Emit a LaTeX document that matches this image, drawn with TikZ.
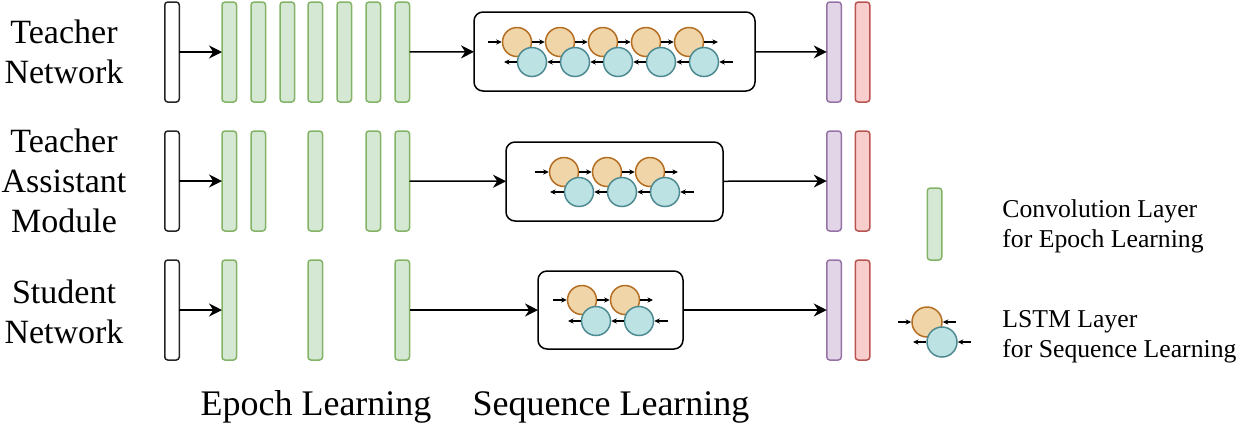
\documentclass[tikz,border=0pt]{standalone}
\usepackage{fontspec}
\setmainfont{Liberation Serif}
\usetikzlibrary{arrows.meta}
\definecolor{gfill}{HTML}{D5E8D4}\definecolor{gdraw}{HTML}{82B366}
\definecolor{pfill}{HTML}{E1D5E7}\definecolor{pdraw}{HTML}{9673A6}
\definecolor{rfill}{HTML}{F8CECC}\definecolor{rdraw}{HTML}{B85450}
\definecolor{ofill}{HTML}{F0D5A8}\definecolor{odraw}{HTML}{B46E22}
\definecolor{tfill}{HTML}{BCE2E4}\definecolor{tdraw}{HTML}{4E8A92}
\begin{document}
\begin{tikzpicture}[x=0.5pt,y=-0.5pt,
  bar/.style={draw, rounded corners=1.5pt, line width=0.75pt, minimum width=7.25pt, minimum height=50pt, inner sep=0pt, outer sep=0pt},
  conv/.style={bar, draw=gdraw, fill=gfill},
  inbox/.style={bar, draw=black!85, fill=white},
  fcp/.style={bar, draw=pdraw, fill=pfill},
  fcr/.style={bar, draw=rdraw, fill=rfill},
  fwd/.style={circle, draw=odraw, fill=ofill, line width=0.75pt, minimum size=14.5pt, inner sep=0pt},
  bwd/.style={circle, draw=tdraw, fill=tfill, line width=0.75pt, minimum size=14.5pt, inner sep=0pt},
  lstmbox/.style={draw, rounded corners=4.5pt, line width=0.75pt, inner sep=0pt, outer sep=0pt},
  arr/.style={-{Stealth[length=6.5pt,width=6.5pt]}, line width=0.75pt},
  sarr/.style={-{Stealth[length=2.8pt,width=2.6pt]}, line width=0.55pt},
  lab/.style={font=\fontsize{17}{20}\selectfont, align=center},
  blab/.style={font=\fontsize{18}{21}\selectfont},
  leg/.style={font=\fontsize{12.85}{15}\selectfont, align=left, anchor=west, inner sep=0pt},
]
\useasboundingbox (0,0) rectangle (1246,435);

% ---------- Row 1: Teacher Network ----------
\node[lab] (l1) at (64,52) {Teacher\\Network};
\node[inbox] (in1) at (172,52) {};
\foreach \i/\x in {1/229.25,2/258.25,3/287.25,4/315.25,5/344.25,6/373.25,7/402.25}
  \node[conv] (a\i) at (\x,52) {};
\node[lstmbox, minimum width=140.5pt, minimum height=39.5pt] (box1) at (614.5,51.5) {};
\foreach \k in {0,...,4}{
  \node[fwd] (ao\k) at ({517+43*\k},42) {};
  \node[bwd] (at\k) at ({532+43*\k},62) {};
}
\node[fcp] (p1) at (834,52) {};
\node[fcr] (r1) at (862.5,52) {};
\coordinate (ain) at (488,42); \coordinate (aout) at (718,42);
\coordinate (tin) at (733,62); \coordinate (tout) at (504,62);
\draw[sarr] (ain) -- (ao0.west);
\foreach \k/\n in {0/1,1/2,2/3,3/4}{
  \draw[sarr] (ao\k.east) -- (ao\n.west);
  \draw[sarr] (at\n.west) -- (at\k.east);
}
\draw[sarr] (ao4.east) -- (aout);
\draw[sarr] (at0.west) -- (tout);
\draw[sarr] (tin) -- (at4.east);
\draw[arr] (in1) -- (a1);
\draw[arr] (a7) -- (box1);
\draw[arr] (box1) -- (p1);

% ---------- Row 2: Teacher Assistant Module ----------
\node[lab] (l2) at (64,181) {Teacher\\Assistant\\Module};
\node[inbox] (in2) at (172,181) {};
\foreach \i/\x in {1/229.25,2/258.25,4/315.25,6/373.25,7/402.25}
  \node[conv] (b\i) at (\x,181) {};
\node[lstmbox, minimum width=108.5pt, minimum height=39.5pt] (box2) at (614.5,181.5) {};
\foreach \k in {0,...,2}{
  \node[fwd] (bo\k) at ({564+43*\k},172) {};
  \node[bwd] (bt\k) at ({579+43*\k},192) {};
}
\node[fcp] (p2) at (834,181) {};
\node[fcr] (r2) at (862.5,181) {};
\coordinate (bin) at (535,172); \coordinate (bout) at (678,172);
\coordinate (btin) at (694,192); \coordinate (btout) at (550,192);
\draw[sarr] (bin) -- (bo0.west);
\foreach \k/\n in {0/1,1/2}{
  \draw[sarr] (bo\k.east) -- (bo\n.west);
  \draw[sarr] (bt\n.west) -- (bt\k.east);
}
\draw[sarr] (bo2.east) -- (bout);
\draw[sarr] (bt0.west) -- (btout);
\draw[sarr] (btin) -- (bt2.east);
\draw[arr] (in2) -- (b1);
\draw[arr] (b7) -- (box2);
\draw[arr] (box2) -- (p2);

% ---------- Row 3: Student Network ----------
\node[lab] (l3) at (64,312) {Student\\Network};
\node[inbox] (in3) at (172,310) {};
\foreach \i/\x in {1/229.25,4/315.25,7/402.25}
  \node[conv] (c\i) at (\x,310) {};
\node[lstmbox, minimum width=72.5pt, minimum height=39pt] (box3) at (610.5,310) {};
\foreach \k in {0,1}{
  \node[fwd] (co\k) at ({582+43*\k},300) {};
  \node[bwd] (ct\k) at ({596+43*\k},321) {};
}
\node[fcp] (p3) at (834,310) {};
\node[fcr] (r3) at (862.5,310) {};
\coordinate (cin) at (553,300); \coordinate (cout) at (653,300);
\coordinate (ctin) at (668,321); \coordinate (ctout) at (568,321);
\draw[sarr] (cin) -- (co0.west);
\draw[sarr] (co0.east) -- (co1.west);
\draw[sarr] (ct1.west) -- (ct0.east);
\draw[sarr] (co1.east) -- (cout);
\draw[sarr] (ct0.west) -- (ctout);
\draw[sarr] (ctin) -- (ct1.east);
\draw[arr] (in3) -- (c1);
\draw[arr] (c7) -- (box3);
\draw[arr] (box3) -- (p3);

% ---------- Bottom labels ----------
\node[blab] (el) at (316,407) {Epoch Learning};
\node[blab] (sl) at (611,407) {Sequence Learning};

% ---------- Legend ----------
\node[conv, minimum height=36pt] (lg) at (934.5,224) {};
\node[leg] (lgt) at (1002,226) {Convolution Layer\\for Epoch Learning};
\node[fwd, minimum size=15pt] (lo) at (927,322) {};
\node[bwd, minimum size=15pt] (lt) at (942,342) {};
\coordinate (loin) at (898,322); \coordinate (loin2) at (956,322);
\coordinate (ltout) at (913,342); \coordinate (ltin) at (971,342);
\draw[sarr] (loin) -- (lo.west);
\draw[sarr] (loin2) -- (lo.east);
\draw[sarr] (lt.west) -- (ltout);
\draw[sarr] (ltin) -- (lt.east);
\node[leg] (llt) at (1002,336.5) {LSTM Layer\\for Sequence Learning};
\end{tikzpicture}
\end{document}
